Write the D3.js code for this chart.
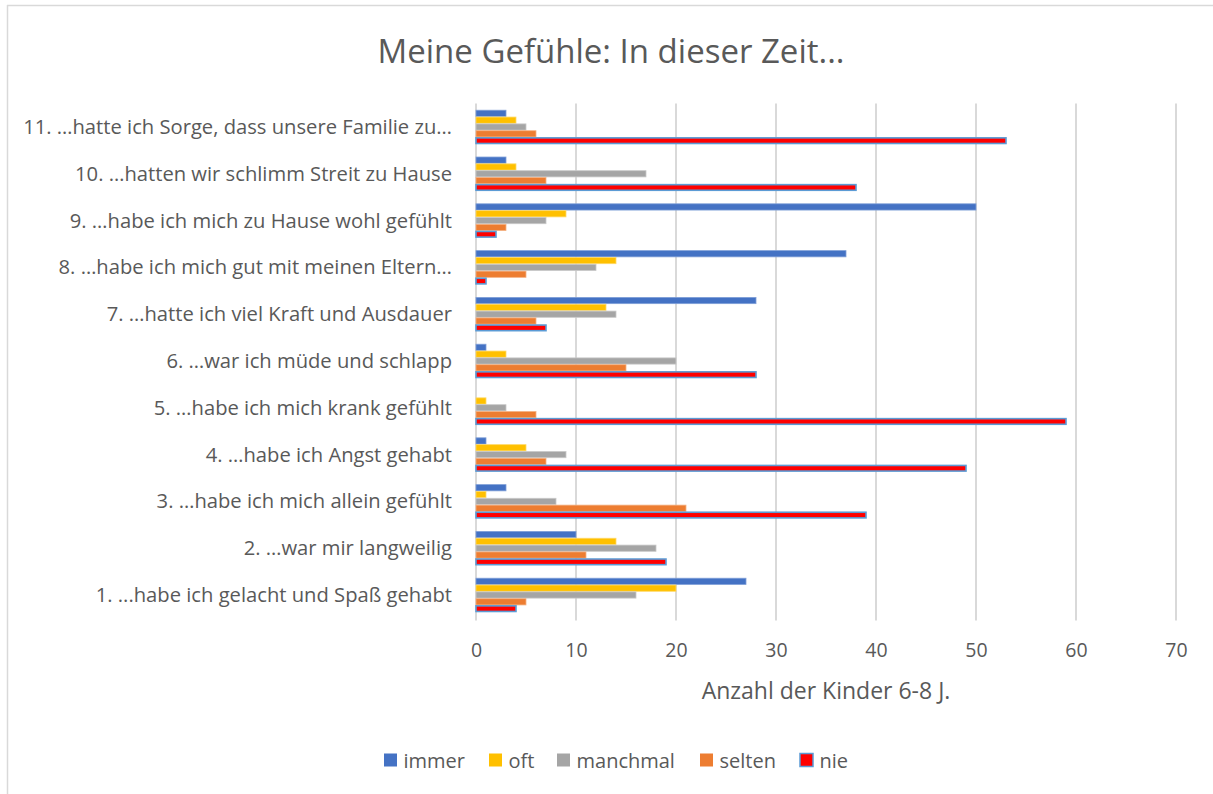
<!DOCTYPE html>
<html><head><meta charset="utf-8">
<script src="https://cdn.jsdelivr.net/npm/d3@7"></script>
<style>body{margin:0;background:#fff;} text{font-family:"Open Sans",sans-serif;fill:#595959;}</style>
</head><body>
<svg id="c" width="1213" height="794"></svg>
<script>
const categories = [
  "1. ...habe ich gelacht und Spaß gehabt",
  "2. …war mir langweilig",
  "3. …habe ich mich allein gefühlt",
  "4. …habe ich Angst gehabt",
  "5. …habe ich mich krank gefühlt",
  "6. …war ich müde und schlapp",
  "7. …hatte ich viel Kraft und Ausdauer",
  "8. …habe ich mich gut mit meinen Eltern…",
  "9. …habe ich mich zu Hause wohl gefühlt",
  "10. …hatten wir schlimm Streit zu Hause",
  "11. …hatte ich Sorge, dass unsere Familie zu…"
];
const seriesNames = ["immer","oft","manchmal","selten","nie"];
const immer    = [27,10,3,1,0,1,28,37,50,3,3];
const oft      = [20,14,1,5,1,3,13,14,9,4,4];
const manchmal = [16,18,8,9,3,20,14,12,7,17,5];
const selten   = [5,11,21,7,6,15,6,5,3,7,6];
const nie      = [4,19,39,49,59,28,7,1,2,38,53];
const xTicks = [0,10,20,30,40,50,60,70];
const title = "Meine Gefühle: In dieser Zeit...";
const xTitle = "Anzahl der Kinder 6-8 J.";

const seriesValues = [immer, oft, manchmal, selten, nie];
const colors = ["#4472C4","#FFC000","#A5A5A5","#ED7D31","#FF0000"];
const strokes = ["#7f9fd8","#ffd966","#c9c9c9","#f4b183","#5B9BD5"];

const svg = d3.select("#c");
svg.append("line").attr("x1",7).attr("x2",1213).attr("y1",5.5).attr("y2",5.5).attr("stroke","#D9D9D9").attr("stroke-width",1.5);
svg.append("line").attr("x1",7.5).attr("x2",7.5).attr("y1",5).attr("y2",794).attr("stroke","#D9D9D9").attr("stroke-width",1.5);

const pLeft = 476, pRight = 1176, pTop = 103.6, pBottom = 618.4;
const x = d3.scaleLinear().domain([0,70]).range([pLeft,pRight]);
const y = d3.scaleBand().domain(categories.slice().reverse()).range([pTop,pBottom]).paddingInner(0.27).paddingOuter(0.135);
const ys = d3.scaleBand().domain(seriesNames).range([0,y.bandwidth()]);

svg.append("g").selectAll("line").data(xTicks).join("line")
  .attr("x1",d=>x(d)).attr("x2",d=>x(d)).attr("y1",pTop).attr("y2",pBottom+2)
  .attr("stroke","#D9D9D9").attr("stroke-width",2);

const groups = svg.append("g").selectAll("g").data(categories).join("g")
  .attr("transform",c=>`translate(0,${y(c)})`);
seriesNames.forEach((s,si)=>{
  groups.append("rect")
    .attr("x",x(0))
    .attr("y",(c,i)=>ys(s)+ (si===4?0.6:0.3))
    .attr("width",(c,i)=>Math.max(0,x(seriesValues[si][i])-x(0)))
    .attr("height",ys.bandwidth()-(si===4?1.2:0.6))
    .attr("fill",colors[si])
    .attr("stroke",(c,i)=>seriesValues[si][i]>0?strokes[si]:"none")
    .attr("stroke-width",si===4?1.6:0.8);
});

const yAxis = d3.axisLeft(y).tickSize(0).tickPadding(0);
const ga = svg.append("g").attr("transform",`translate(${452},0)`).call(yAxis);
ga.select(".domain").remove();
ga.selectAll("text").attr("font-size",20.2).attr("dy","0.35em").style("font-family","'Open Sans',sans-serif").attr("fill","#595959");

const xAxis = d3.axisBottom(x).tickValues(xTicks).tickSize(0).tickPadding(0);
const gx = svg.append("g").attr("transform",`translate(0,${650})`).call(xAxis);
gx.select(".domain").remove();
gx.selectAll("text").attr("font-size",19.5).attr("dy","0.35em").attr("y",0).style("font-family","'Open Sans',sans-serif").attr("fill","#595959");

svg.append("text").attr("x",611).attr("y",50).attr("text-anchor","middle").attr("dominant-baseline","central")
  .attr("font-size",33).text(title);
svg.append("text").attr("x",826).attr("y",690).attr("text-anchor","middle").attr("dominant-baseline","central")
  .attr("font-size",23).text(xTitle);

const legX = [384, 489, 557, 700, 800];
const lg = svg.append("g").selectAll("g").data(seriesNames).join("g")
  .attr("transform",(d,i)=>`translate(${legX[i]},760)`);
lg.append("rect").attr("x",0).attr("y",-6.5).attr("width",13).attr("height",13)
  .attr("fill",(d,i)=>colors[i]).attr("stroke",(d,i)=>i===4?strokes[4]:"none").attr("stroke-width",1.5);
lg.append("text").attr("x",19.5).attr("y",0).attr("dominant-baseline","central").attr("font-size",20).text(d=>d);
</script>
</body></html>
